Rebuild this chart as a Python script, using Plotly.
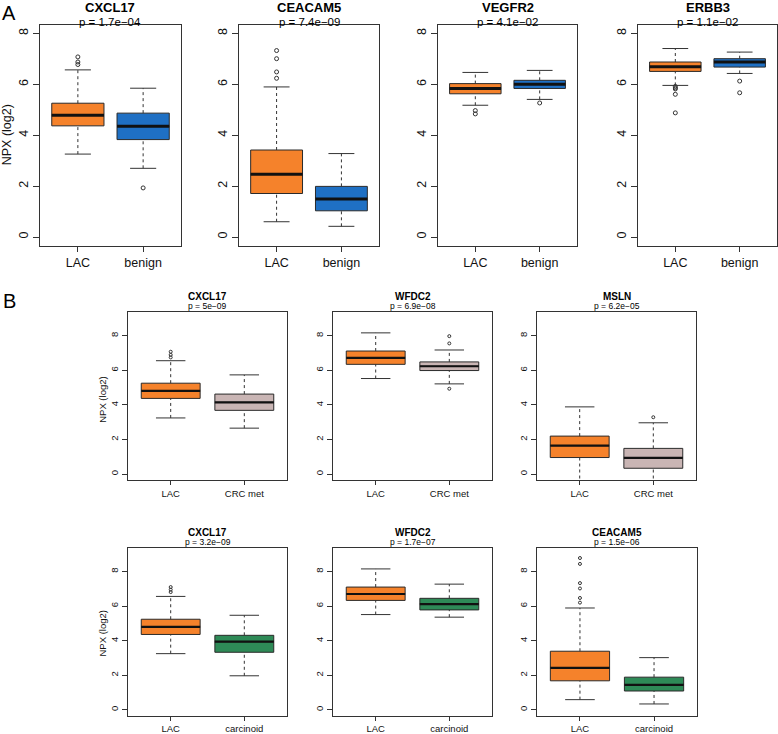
import plotly.graph_objects as go

# ---------------- data ----------------
TITLES = ["CXCL17", "CEACAM5", "VEGFR2", "ERBB3",
          "CXCL17", "WFDC2", "MSLN",
          "CXCL17", "WFDC2", "CEACAM5"]
P_TEXT = ["p = 1.7e\u221204", "p = 7.4e\u221209", "p = 4.1e\u221202", "p = 1.1e\u221202",
          "p = 5e\u221209", "p = 6.9e\u221208", "p = 6.2e\u221205",
          "p = 3.2e\u221209", "p = 1.7e\u221207", "p = 1.5e\u221206"]
GROUPS = [["LAC", "benign"]] * 4 + [["LAC", "CRC met"]] * 3 + [["LAC", "carcinoid"]] * 3

LOWER = [[3.26, 2.70], [0.60, 0.42], [5.18, 5.41], [5.96, 6.43],
         [3.25, 2.66], [5.53, 5.22], [-0.6, -0.6],
         [3.25, 1.97], [5.51, 5.36], [0.59, 0.34]]
Q1 = [[4.37, 3.83], [1.71, 1.03], [5.63, 5.84], [6.51, 6.68],
      [4.38, 3.69], [6.35, 5.99], [0.96, 0.34],
      [4.36, 3.33], [6.33, 5.78], [1.68, 1.09]]
MEDIAN = [[4.79, 4.35], [2.47, 1.49], [5.84, 6.01], [6.69, 6.88],
          [4.82, 4.15], [6.72, 6.24], [1.65, 0.94],
          [4.80, 3.94], [6.70, 6.12], [2.43, 1.45]]
Q3 = [[5.26, 4.87], [3.42, 1.99], [6.03, 6.16], [6.88, 7.01],
      [5.26, 4.63], [7.12, 6.49], [2.20, 1.49],
      [5.24, 4.31], [7.10, 6.45], [3.39, 1.89]]
UPPER = [[6.57, 5.85], [5.90, 3.28], [6.47, 6.55], [7.41, 7.27],
         [6.56, 5.74], [8.17, 7.18], [3.89, 2.97],
         [6.56, 5.47], [8.15, 7.27], [5.89, 3.02]]
OUTLIERS = [[[6.78, 6.88, 7.08], [1.93]],
            [[6.24, 6.49, 7.01, 7.33], []],
            [[4.97, 4.84], [5.27]],
            [[5.92, 5.86, 5.82, 5.61, 4.88], [6.13, 5.67]],
            [[6.75, 6.9, 7.08], []],
            [[], [7.98, 7.56, 4.94]],
            [[], [3.29]],
            [[6.81, 6.95, 7.1], []],
            [[], []],
            [[6.20, 6.47, 7.02, 7.33, 8.44, 8.78], []]]
GROUP_COLORS = {"LAC": "#F5822B", "benign": "#1F70C4",
                "CRC met": "#C9B5B4", "carcinoid": "#2E8A57"}

Y_TICKS = [0, 2, 4, 6, 8]

# ---------------- layout geometry (pixels) ----------------
W, H = 778, 734
# (left, right, top, bottom) of each panel frame
FRAMES = [(40, 181, 25, 247), (239, 379, 25, 247), (438, 577, 25, 247), (638, 777, 25, 247),
          (128, 287, 314, 483), (333, 492, 314, 483), (537, 696, 314, 483),
          (128, 287, 551, 720), (333, 492, 551, 720), (537, 697, 551, 720)]


def px_x(v):
    return v / W


def px_y(v):
    return 1 - v / H


fig = go.Figure()
layout = dict(width=W, height=H, margin=dict(l=0, r=0, t=0, b=0),
              paper_bgcolor="white", plot_bgcolor="white", showlegend=False,
              font=dict(family="Liberation Sans, Arial, sans-serif", color="#111"))
annotations = []
FONT = "Liberation Sans, Arial, sans-serif"

for i in range(10):
    big = i < 4
    l, r, t, b = FRAMES[i]
    xa = "x" if i == 0 else f"x{i+1}"
    ya = "y" if i == 0 else f"y{i+1}"
    xkey = "xaxis" if i == 0 else f"xaxis{i+1}"
    ykey = "yaxis" if i == 0 else f"yaxis{i+1}"
    yr = [-0.34, 8.34] if big else [-0.36, 9.36]
    tick_fs = 12.5 if big else 9.5
    layout[xkey] = dict(domain=[px_x(l), px_x(r)], anchor=ya, range=[0.42, 2.58],
                        tickvals=[1, 2], ticktext=GROUPS[i], ticks="outside",
                        ticklen=5 if big else 4, tickcolor="#333", showgrid=False,
                        zeroline=False, showline=True, mirror=True, linecolor="#333",
                        linewidth=1, tickfont=dict(size=tick_fs, family=FONT, color="#111"),
                        fixedrange=True)
    layout[ykey] = dict(domain=[px_y(b), px_y(t)], anchor=xa, range=yr,
                        tickvals=Y_TICKS, ticks="outside", ticklen=6 if big else 5,
                        tickcolor="#333", tickangle=-90, showgrid=False, zeroline=False,
                        showline=True, mirror=True, linecolor="#333", linewidth=1,
                        tickfont=dict(size=tick_fs, family=FONT, color="#111"),
                        fixedrange=True)

    for j, g in enumerate(GROUPS[i]):
        pos = j + 1
        col = GROUP_COLORS[g]
        lo, q1, med, q3, up = LOWER[i][j], Q1[i][j], MEDIAN[i][j], Q3[i][j], UPPER[i][j]
        # dashed whiskers
        for a, c in ((lo, q1), (q3, up)):
            fig.add_trace(go.Scatter(x=[pos, pos], y=[a, c], mode="lines", xaxis=xa, yaxis=ya,
                                     line=dict(color="#333", width=1, dash="3px,3px"),
                                     hoverinfo="skip"))
        # staples
        for v in (lo, up):
            fig.add_trace(go.Scatter(x=[pos - 0.2, pos + 0.2], y=[v, v], mode="lines",
                                     xaxis=xa, yaxis=ya, line=dict(color="#333", width=1),
                                     hoverinfo="skip"))
        # box body
        fig.add_trace(go.Box(x=[pos], q1=[q1], median=[med], q3=[q3],
                             lowerfence=[q1], upperfence=[q3], width=0.8,
                             whiskerwidth=0, fillcolor=col,
                             line=dict(color="#2a2a2a", width=1),
                             boxpoints=False, xaxis=xa, yaxis=ya, name=g))
        # thick median
        fig.add_trace(go.Scatter(x=[pos - 0.4, pos + 0.4], y=[med, med], mode="lines",
                                 xaxis=xa, yaxis=ya,
                                 line=dict(color="#111", width=3 if big else 2.2),
                                 hoverinfo="skip"))
        # outliers
        outs = OUTLIERS[i][j]
        if outs:
            fig.add_trace(go.Scatter(x=[pos] * len(outs), y=outs, mode="markers",
                                     xaxis=xa, yaxis=ya,
                                     marker=dict(symbol="circle-open", size=4 if big else 3,
                                                 color="#333", line=dict(width=1)),
                                     hoverinfo="skip"))

    cx = px_x((l + r) / 2)
    if big:
        annotations.append(dict(text="<b>" + TITLES[i] + "</b>", x=cx, y=px_y(0),
                                xref="paper", yref="paper", showarrow=False, xanchor="center",
                                yanchor="top", borderpad=0, borderwidth=0,
                                font=dict(size=13, family=FONT, color="#000")))
        annotations.append(dict(text=P_TEXT[i], x=cx, y=px_y(t + 3.5),
                                xref="paper", yref="paper", showarrow=False, xanchor="center",
                                yanchor="bottom", borderpad=0, borderwidth=0,
                                font=dict(size=11.5, family=FONT, color="#000")))
    else:
        annotations.append(dict(text="<b>" + TITLES[i] + "</b>", x=cx, y=px_y(t - 16),
                                xref="paper", yref="paper", showarrow=False, xanchor="center",
                                yanchor="middle", borderpad=0, borderwidth=0,
                                font=dict(size=10, family=FONT, color="#000")))
        annotations.append(dict(text=P_TEXT[i], x=cx, y=px_y(t - 6),
                                xref="paper", yref="paper", showarrow=False, xanchor="center",
                                yanchor="middle", borderpad=0, borderwidth=0,
                                font=dict(size=8.5, family=FONT, color="#000")))

# y-axis titles
annotations.append(dict(text="NPX (log2)", x=px_x(7), y=px_y(136), xref="paper", yref="paper",
                        showarrow=False, textangle=-90, xanchor="center", yanchor="middle",
                        font=dict(size=12.5, family=FONT, color="#111")))
for yc in (402, 637):
    annotations.append(dict(text="NPX (log2)", x=px_x(103), y=px_y(yc), xref="paper",
                            yref="paper", showarrow=False, textangle=-90, xanchor="center",
                            yanchor="middle", font=dict(size=9.5, family=FONT, color="#111")))
# panel letters
annotations.append(dict(text="A", x=px_x(9), y=px_y(13), xref="paper", yref="paper",
                        showarrow=False, xanchor="center", yanchor="middle",
                        font=dict(size=20, family=FONT, color="#000")))
annotations.append(dict(text="B", x=px_x(9), y=px_y(303), xref="paper", yref="paper",
                        showarrow=False, xanchor="center", yanchor="middle",
                        font=dict(size=20, family=FONT, color="#000")))

layout["annotations"] = annotations
fig.update_layout(**layout)
fig.write_html("out.html", config={"displayModeBar": False},
               post_script="document.body.style.margin='0px';document.body.style.overflow='hidden';")
